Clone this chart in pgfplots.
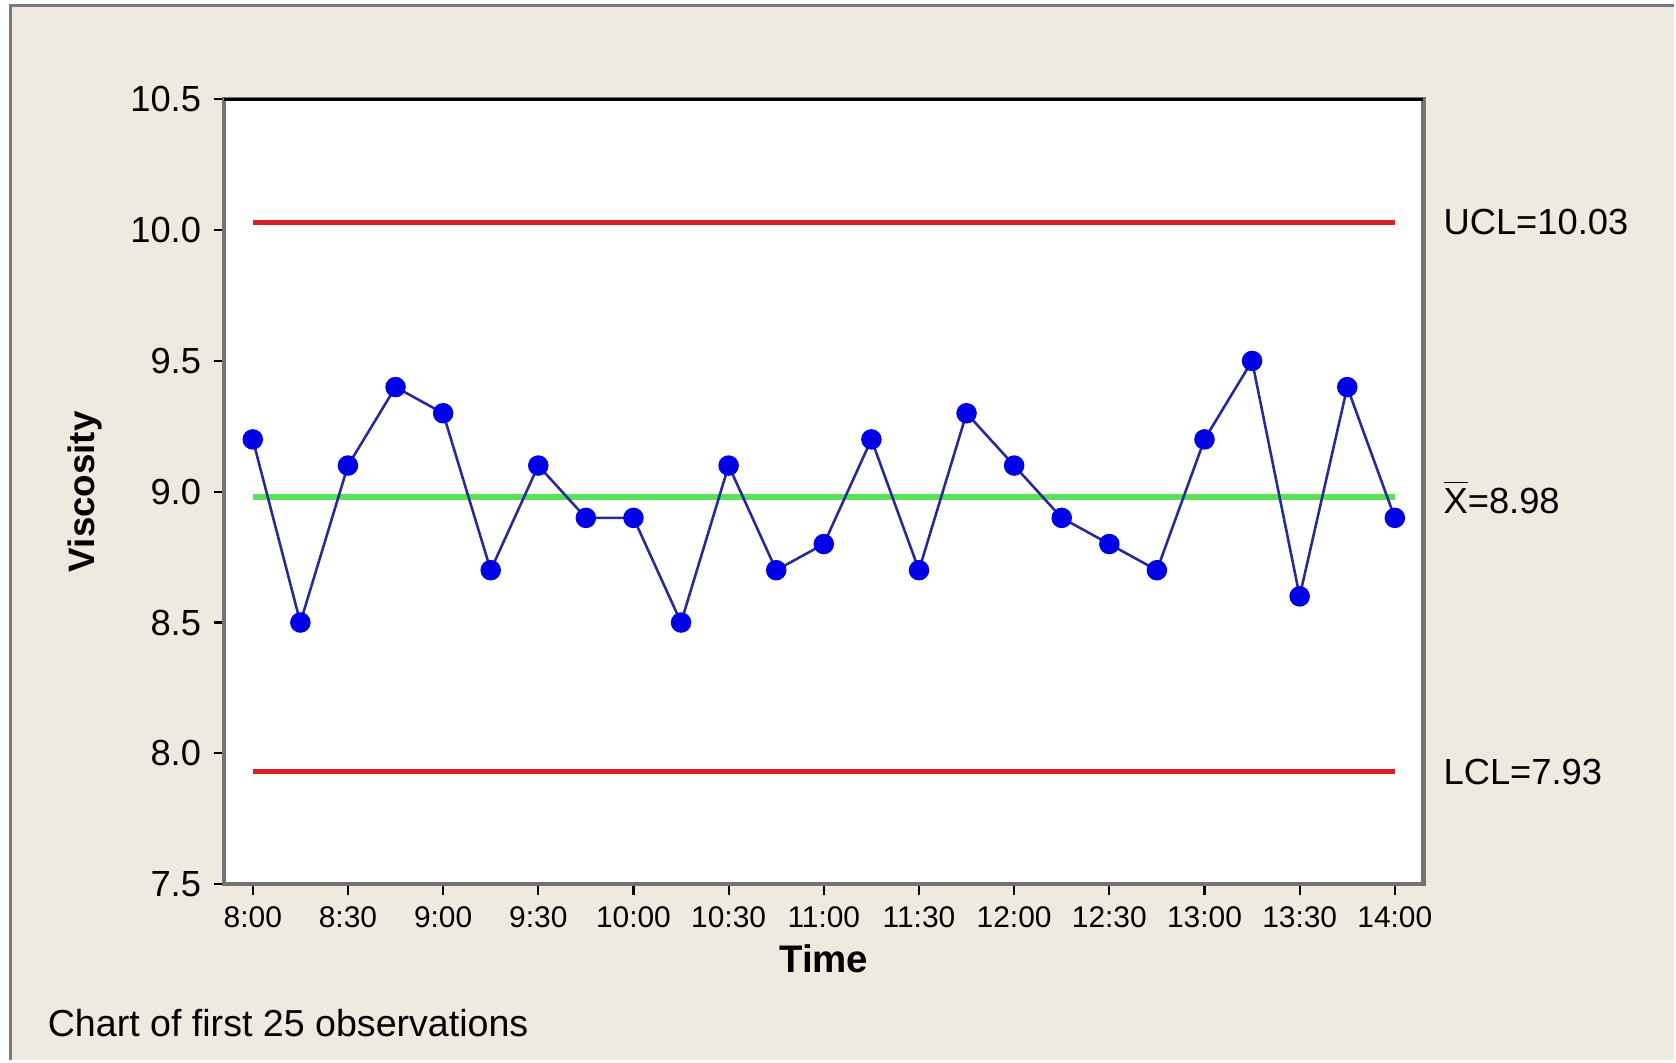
\documentclass[border=0pt]{standalone}
\usepackage{pgfplots}
\pgfplotsset{compat=1.18}
\usepackage{fontspec}
\setmainfont{Liberation Sans}
\definecolor{panel}{RGB}{238,234,224}
\definecolor{frameline}{RGB}{120,120,120}
\definecolor{axisgray}{RGB}{115,115,115}
\definecolor{limitred}{RGB}{218,32,38}
\definecolor{centergreen}{RGB}{90,225,90}
\definecolor{dataline}{RGB}{40,40,150}
\definecolor{datamark}{RGB}{0,0,230}

\begin{document}
\begin{tikzpicture}
% window background and frame
\fill[white] (0,0) rectangle (392pt,248.25pt);
\fill[panel] (2.5pt,0) rectangle (392pt,247pt);
\draw[frameline, line width=0.8pt] (2.5pt,0) -- (2.5pt,247pt) -- (392pt,247pt);
\node[anchor=west, inner sep=0pt] at (11pt,8.75pt)
  {\fontsize{8.8}{10}\selectfont Chart of first 25 observations};

\begin{axis}[
    at={(52.5pt,41.25pt)}, anchor=south west,
    scale only axis, width=280.75pt, height=183.75pt,
    xmin=-0.6, xmax=24.6,
    ymin=7.5, ymax=10.5,
    axis background/.style={fill=white},
    axis line style={draw=axisgray, line width=1pt},
    clip=false,
    xtick={0,2,...,24},
    xticklabels={8:00,8:30,9:00,9:30,10:00,10:30,11:00,11:30,12:00,12:30,13:00,13:30,14:00},
    ytick={7.5,8,8.5,9,9.5,10,10.5},
    yticklabel={\pgfmathprintnumber[fixed,fixed zerofill,precision=1]{\tick}},
    /pgf/number format/assume math mode=true,
    xtick pos=lower, ytick pos=left,
    tick align=outside,
    major tick length=2.5pt,
    tick style={black, line width=0.5pt},
    xticklabel style={font=\fontsize{7}{8}\selectfont, yshift=0.8pt},
    yticklabel style={font=\fontsize{8.5}{10}\selectfont, xshift=0.6pt},
    xlabel={Time},
    ylabel={Viscosity},
    xlabel style={at={(axis description cs:0.5,-0.095)}, anchor=center,
      font=\bfseries\fontsize{9}{10}\selectfont},
    ylabel style={at={(axis description cs:-0.116,0.5)}, anchor=center,
      font=\bfseries\fontsize{8.6}{10}\selectfont},
]
% control limits and centre line
\addplot[limitred, line width=1.2pt] coordinates {(0,10.03) (24,10.03)};
\addplot[limitred, line width=1.2pt] coordinates {(0,7.93) (24,7.93)};
\addplot[centergreen, line width=1.2pt] coordinates {(0,8.98) (24,8.98)};

% observations
\addplot[dataline, line width=0.6pt, mark=*, mark size=2.1pt,
  mark options={draw=datamark, fill=datamark}] coordinates {
  (0,9.2) (1,8.5) (2,9.1) (3,9.4) (4,9.3) (5,8.7) (6,9.1) (7,8.9) (8,8.9)
  (9,8.5) (10,9.1) (11,8.7) (12,8.8) (13,9.2) (14,8.7) (15,9.3) (16,9.1)
  (17,8.9) (18,8.8) (19,8.7) (20,9.2) (21,9.5) (22,8.6) (23,9.4) (24,8.9)
};

\draw[black, line width=0.6pt] (rel axis cs:0,1) -- (rel axis cs:1,1);

\node[anchor=west, font=\fontsize{8.5}{10}\selectfont, xshift=1.2pt]
  at (axis cs:24.6,10.03) {UCL=10.03};
\node[anchor=west, font=\fontsize{8.5}{10}\selectfont, xshift=1.2pt]
  at (axis cs:24.6,8.98) {$\overline{\hbox{X}}$=8.98};
\node[anchor=west, font=\fontsize{8.5}{10}\selectfont, xshift=1.2pt]
  at (axis cs:24.6,7.93) {LCL=7.93};
\end{axis}
\end{tikzpicture}
\end{document}
